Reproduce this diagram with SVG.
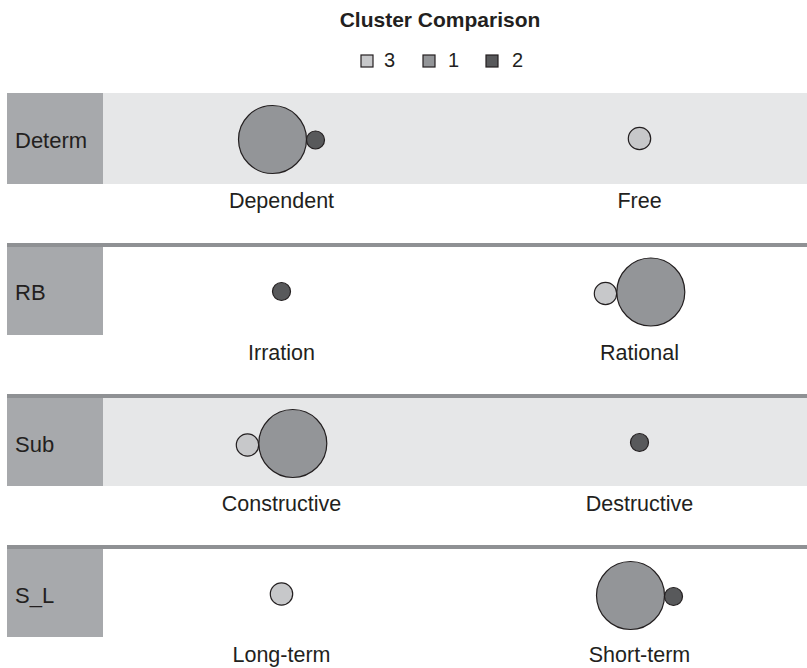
<svg xmlns="http://www.w3.org/2000/svg" width="807" height="668" viewBox="0 0 807 668">
<style>
.bg{fill:#ffffff}
.band{fill:#e6e7e8}
.box{fill:#a7a9ac}
.sep{fill:#8f9194}
.t{font-family:"Liberation Sans",Arial,sans-serif;fill:#231f20}
.lab{font-size:22px}
.col{font-size:21.5px;text-anchor:middle}
.title{font-size:21px;font-weight:bold;text-anchor:middle}
.leg{font-size:20px}
.c3{fill:#c7c8ca;stroke:#231f20;stroke-width:1.2}
.c1{fill:#939598;stroke:#231f20;stroke-width:1.2}
.c2{fill:#58595b;stroke:#231f20;stroke-width:1.2}
</style>
<rect class="bg" x="0" y="0" width="807" height="668"/>
<g id="title">
<text class="t title" x="440" y="27">Cluster Comparison</text>
</g>
<g id="legend">
<rect class="c3" x="361" y="55" width="12" height="12"/>
<text class="t leg" x="384" y="67">3</text>
<rect class="c1" x="423" y="55" width="12" height="12"/>
<text class="t leg" x="448" y="67">1</text>
<rect class="c2" x="486" y="55" width="12" height="12"/>
<text class="t leg" x="512" y="67">2</text>
</g>
<g id="row-determ">
<rect class="band" x="103" y="93" width="704" height="91"/>
<rect class="box" x="7" y="93" width="96" height="91"/>
<text class="t lab" x="15" y="148">Determ</text>
<circle class="c1" cx="272.5" cy="139.5" r="34"/>
<circle class="c2" cx="315.5" cy="140" r="9"/>
<circle class="c3" cx="639.5" cy="138.5" r="11.2"/>
<text class="t col" x="281.5" y="208">Dependent</text>
<text class="t col" x="639.5" y="208">Free</text>
</g>
<g id="row-rb">
<rect class="sep" x="7" y="243" width="800" height="4"/>
<rect class="box" x="7" y="247" width="96" height="88"/>
<text class="t lab" x="15" y="300">RB</text>
<circle class="c2" cx="281.5" cy="291.5" r="9"/>
<circle class="c3" cx="605.5" cy="293.5" r="11.2"/>
<circle class="c1" cx="650.8" cy="292" r="34"/>
<text class="t col" x="281.5" y="360">Irration</text>
<text class="t col" x="639.5" y="360">Rational</text>
</g>
<g id="row-sub">
<rect class="sep" x="7" y="394" width="800" height="4"/>
<rect class="band" x="103" y="398" width="704" height="88"/>
<rect class="box" x="7" y="398" width="96" height="88"/>
<text class="t lab" x="15" y="452">Sub</text>
<circle class="c3" cx="247.5" cy="445" r="11.2"/>
<circle class="c1" cx="292.8" cy="443.5" r="34"/>
<circle class="c2" cx="639.5" cy="442.5" r="9"/>
<text class="t col" x="281.5" y="511">Constructive</text>
<text class="t col" x="639.5" y="511">Destructive</text>
</g>
<g id="row-sl">
<rect class="sep" x="7" y="545" width="800" height="4"/>
<rect class="box" x="7" y="549" width="96" height="88"/>
<text class="t lab" x="15" y="603">S_L</text>
<circle class="c3" cx="281.5" cy="594" r="11.2"/>
<circle class="c1" cx="630.5" cy="595.5" r="34"/>
<circle class="c2" cx="673.5" cy="596.5" r="9"/>
<text class="t col" x="281.5" y="662">Long-term</text>
<text class="t col" x="639.5" y="662">Short-term</text>
</g>
<g id="connectors"/>
</svg>
